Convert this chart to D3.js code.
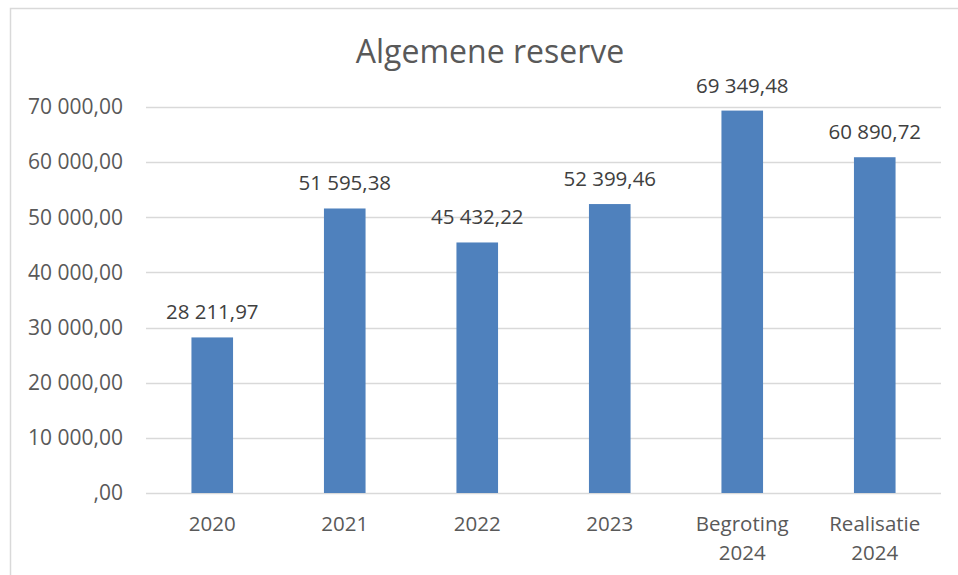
<!DOCTYPE html>
<html>
<head>
<meta charset="utf-8">
<script src="https://cdn.jsdelivr.net/npm/d3@7"></script>
<style>
  html, body { margin: 0; padding: 0; background: #fff; }
  svg { display: block; }
  text { font-family: "Open Sans", "Liberation Sans", sans-serif; }
</style>
</head>
<body>
<svg id="chart" width="958" height="575"></svg>
<script>
const title = "Algemene reserve";
const categories = ["2020", "2021", "2022", "2023", "Begroting\n2024", "Realisatie\n2024"];
const values = [28211.97, 51595.38, 45432.22, 52399.46, 69349.48, 60890.72];
const yTicks = [0, 10000, 20000, 30000, 40000, 50000, 60000, 70000];

const svg = d3.select("#chart");
const W = 958, H = 575;
const margin = { left: 146, right: 17, top: 107, bottom: 82 };

// chart border
svg.append("rect")
  .attr("x", 10.5).attr("y", 8.5)
  .attr("width", W + 20).attr("height", H + 20)
  .attr("fill", "#fff").attr("stroke", "#d9d9d9").attr("stroke-width", 1.5);

const x = d3.scaleBand().domain(categories)
  .range([margin.left, W - margin.right])
  .paddingInner(0.686).paddingOuter(0.343);
const y = d3.scaleLinear().domain([0, 70000]).range([H - margin.bottom, margin.top]);

const fmtNum = v => {
  const parts = v.toFixed(2).split(".");
  let int = parts[0] === "0" ? "" : parts[0].replace(/\B(?=(\d{3})+(?!\d))/g, " ");
  return int + "," + parts[1];
};

// gridlines
svg.append("g").selectAll("line").data(yTicks).join("line")
  .attr("x1", margin.left).attr("x2", W - margin.right)
  .attr("y1", d => Math.round(y(d)) + 0.5).attr("y2", d => Math.round(y(d)) + 0.5)
  .attr("stroke", "#d9d9d9").attr("stroke-width", 1.5);

// y axis labels
const yAxis = d3.axisLeft(y).tickValues(yTicks).tickFormat(fmtNum).tickSize(0).tickPadding(0);
const yg = svg.append("g").attr("transform", `translate(123,0)`).call(yAxis);
yg.select(".domain").remove();
yg.selectAll("text").attr("fill", "#595959").style("font-size", "21px")
  .style("font-family", '"Open Sans", sans-serif');

// bars
svg.append("g").selectAll("rect").data(values).join("rect")
  .attr("x", (d, i) => x(categories[i]))
  .attr("width", x.bandwidth())
  .attr("y", d => y(d))
  .attr("height", d => y(0) - y(d))
  .attr("fill", "#4F81BD");

// data labels
svg.append("g").selectAll("text").data(values).join("text")
  .attr("x", (d, i) => x(categories[i]) + x.bandwidth() / 2)
  .attr("y", d => y(d) - 18)
  .attr("text-anchor", "middle")
  .attr("fill", "#404040")
  .style("font-size", "20.5px")
  .text(d => fmtNum(d));

// x axis labels
const xAxis = d3.axisBottom(x).tickSize(0).tickFormat(() => "");
const xg = svg.append("g").attr("transform", `translate(0,${y(0)})`).call(xAxis);
xg.select(".domain").remove();
xg.selectAll(".tick").each(function(d) {
  const lines = d.split("\n");
  const t = d3.select(this).append("text")
    .attr("text-anchor", "middle")
    .attr("fill", "#595959")
    .style("font-size", "20.5px");
  lines.forEach((ln, k) => {
    t.append("tspan").attr("x", 0).attr("y", 38 + k * 29).text(ln);
  });
});

// title
svg.append("text")
  .attr("x", 490).attr("y", 63)
  .attr("text-anchor", "middle")
  .attr("fill", "#595959")
  .style("font-size", "32px")
  .text(title);
</script>
</body>
</html>
